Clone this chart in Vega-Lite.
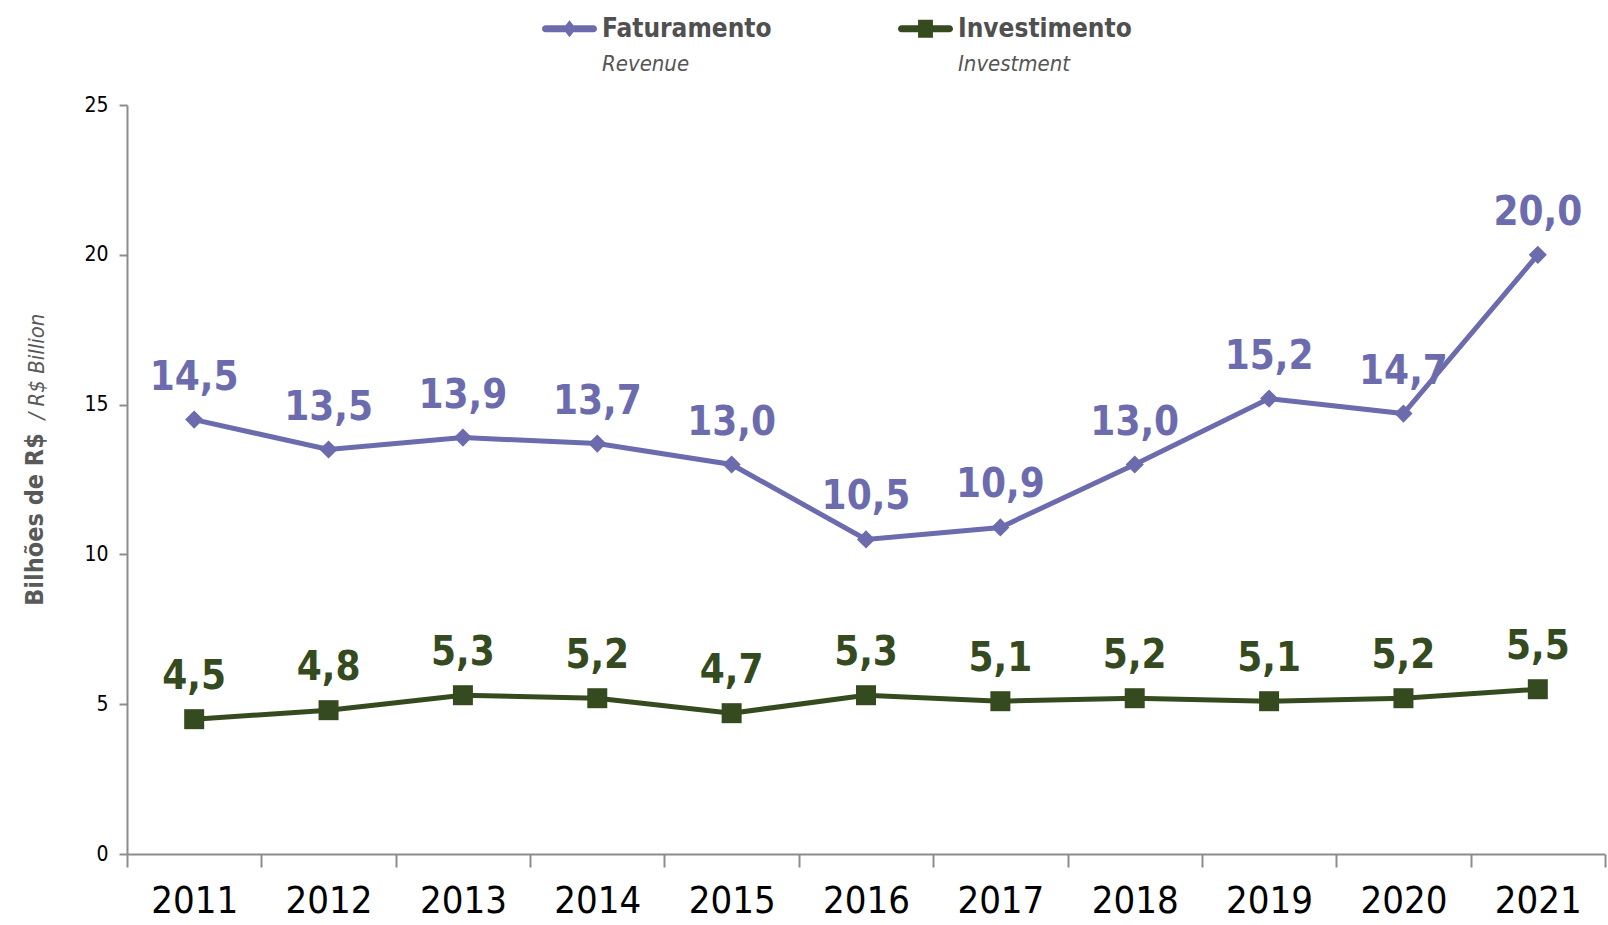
{
  "$schema": "https://vega.github.io/schema/vega-lite/v6.json",
  "width": 1478,
  "height": 749,
  "autosize": {"type": "none"},
  "padding": {"left": 127, "top": 105, "right": 3, "bottom": 71},
  "config": {
    "locale": {"number": {"decimal": ",", "thousands": ".", "grouping": [3], "currency": ["R$", ""]}},
    "font": "DejaVu Sans Condensed, Liberation Sans",
    "view": {"stroke": null}
  },
  "title": {
    "text": "/ R$ Billion",
    "orient": "left",
    "anchor": "middle",
    "frame": "group",
    "fontSize": 22,
    "fontStyle": "italic",
    "fontWeight": "normal",
    "color": "#595959",
    "offset": -26,
    "dx": 113
  },
  "data": {
    "values": [
      {"ano": "2011", "serie": "Faturamento", "en": "Revenue", "valor": 14.5},
      {"ano": "2012", "serie": "Faturamento", "en": "Revenue", "valor": 13.5},
      {"ano": "2013", "serie": "Faturamento", "en": "Revenue", "valor": 13.9},
      {"ano": "2014", "serie": "Faturamento", "en": "Revenue", "valor": 13.7},
      {"ano": "2015", "serie": "Faturamento", "en": "Revenue", "valor": 13.0},
      {"ano": "2016", "serie": "Faturamento", "en": "Revenue", "valor": 10.5},
      {"ano": "2017", "serie": "Faturamento", "en": "Revenue", "valor": 10.9},
      {"ano": "2018", "serie": "Faturamento", "en": "Revenue", "valor": 13.0},
      {"ano": "2019", "serie": "Faturamento", "en": "Revenue", "valor": 15.2},
      {"ano": "2020", "serie": "Faturamento", "en": "Revenue", "valor": 14.7},
      {"ano": "2021", "serie": "Faturamento", "en": "Revenue", "valor": 20.0},
      {"ano": "2011", "serie": "Investimento", "en": "Investment", "valor": 4.5},
      {"ano": "2012", "serie": "Investimento", "en": "Investment", "valor": 4.8},
      {"ano": "2013", "serie": "Investimento", "en": "Investment", "valor": 5.3},
      {"ano": "2014", "serie": "Investimento", "en": "Investment", "valor": 5.2},
      {"ano": "2015", "serie": "Investimento", "en": "Investment", "valor": 4.7},
      {"ano": "2016", "serie": "Investimento", "en": "Investment", "valor": 5.3},
      {"ano": "2017", "serie": "Investimento", "en": "Investment", "valor": 5.1},
      {"ano": "2018", "serie": "Investimento", "en": "Investment", "valor": 5.2},
      {"ano": "2019", "serie": "Investimento", "en": "Investment", "valor": 5.1},
      {"ano": "2020", "serie": "Investimento", "en": "Investment", "valor": 5.2},
      {"ano": "2021", "serie": "Investimento", "en": "Investment", "valor": 5.5}
    ]
  },
  "encoding": {
    "x": {
      "field": "ano",
      "type": "ordinal",
      "scale": {"paddingInner": 0, "paddingOuter": 0},
      "axis": {
        "title": null,
        "labelAngle": 0,
        "labelFontSize": 38,
        "labelColor": "#000000",
        "labelPadding": 15,
        "tickBand": "extent",
        "tickSize": 13,
        "tickWidth": 2,
        "tickColor": "#8c8c8c",
        "domainColor": "#8c8c8c",
        "domainWidth": 2,
        "grid": false
      }
    },
    "y": {
      "field": "valor",
      "type": "quantitative",
      "scale": {"domain": [0, 25], "nice": false},
      "axis": {
        "values": [0, 5, 10, 15, 20, 25],
        "format": "d",
        "grid": false,
        "labelFontSize": 21,
        "labelColor": "#000000",
        "labelPadding": 11,
        "tickSize": 8,
        "tickWidth": 2,
        "tickColor": "#8c8c8c",
        "domainColor": "#8c8c8c",
        "domainWidth": 2,
        "title": "Bilhões de R$",
        "titleFontSize": 25,
        "titleFontWeight": "bold",
        "titleColor": "#595959",
        "titlePadding": 36,
        "titleY": 414
      }
    },
    "color": {
      "field": "serie",
      "type": "nominal",
      "scale": {"domain": ["Faturamento", "Investimento"], "range": ["#6b6bad", "#354b1f"]},
      "legend": {
        "orient": "none",
        "legendX": 415,
        "legendY": -104,
        "direction": "horizontal",
        "columns": 2,
        "title": null,
        "padding": 0,
        "columnPadding": 126,
        "labelFontSize": 26,
        "labelFontWeight": "bold",
        "labelColor": "#505050",
        "labelOffset": 5,
        "labelLimit": 400,
        "symbolSize": 3025,
        "symbolStrokeWidth": 0,
        "encode": {
          "symbols": {
            "update": {
              "shape": {"signal": "datum.value === 'Faturamento' ? 'M-0.87,-0.13L0.87,-0.13A0.13,0.13 0 0 1 0.87,0.13L-0.87,0.13A0.13,0.13 0 0 1 -0.87,-0.13Z M0,-0.31L0.24,0L0,0.31L-0.24,0Z' : 'M-0.87,-0.13L0.87,-0.13A0.13,0.13 0 0 1 0.87,0.13L-0.87,0.13A0.13,0.13 0 0 1 -0.87,-0.13Z M-0.27,-0.33L0.27,-0.33L0.27,0.33L-0.27,0.33Z'"},
              "fill": {"signal": "datum.value === 'Faturamento' ? '#6b6bad' : '#354b1f'"},
              "size": {"value": 3025},
              "strokeWidth": {"value": 0},
              "opacity": {"value": 1}
            }
          }
        }
      }
    }
  },
  "layer": [
    {
      "mark": {"type": "line", "strokeWidth": 5},
      "encoding": {
        "opacity": {
          "field": "en",
          "type": "nominal",
          "scale": {"domain": ["Revenue", "Investment"], "range": [1, 1]},
          "legend": {
            "orient": "none",
            "legendX": 453,
            "legendY": -52,
            "direction": "horizontal",
            "columns": 2,
            "title": null,
            "padding": 0,
            "columnPadding": 246,
            "labelFontSize": 22,
            "labelFontStyle": "italic",
            "labelColor": "#555555",
            "labelOffset": 0,
            "labelLimit": 400,
            "symbolSize": 0,
            "symbolOpacity": 0,
            "symbolStrokeWidth": 0,
            "symbolStrokeColor": "transparent"
          }
        }
      }
    },
    {
      "transform": [{"filter": "datum.serie === 'Faturamento'"}],
      "mark": {"type": "point", "filled": true, "shape": "diamond", "size": 330, "opacity": 1}
    },
    {
      "transform": [{"filter": "datum.serie === 'Investimento'"}],
      "mark": {"type": "point", "filled": true, "shape": "square", "size": 400, "opacity": 1}
    },
    {
      "mark": {"type": "text", "fontSize": 40, "fontWeight": "bold", "baseline": "alphabetic", "dy": -30},
      "encoding": {"text": {"field": "valor", "type": "quantitative", "format": ".1f"}}
    }
  ]
}
